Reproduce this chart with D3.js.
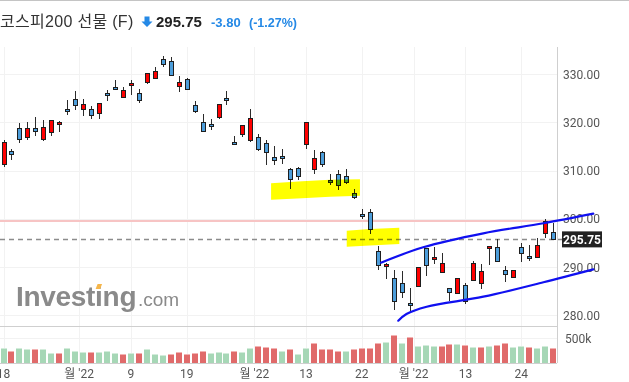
<!DOCTYPE html>
<html>
<head>
<meta charset="utf-8">
<script src="https://cdn.jsdelivr.net/npm/d3@7"></script>
<style>
body { margin: 0; background: #fff; }
svg { display: block; }
</style>
</head>
<body>
<svg id="chart" width="629" height="382"></svg>
<script>
// daily candles, oldest first
var opens = [311.45, 314.0, 318.8, 316.9, 318.8, 316.5, 318.0, 319.8, 322.8, 324.8,
    322.9, 322.9, 321.9, 326.1, 327.3, 325.2, 327.7, 326.1, 328.3, 329.2,
    333.1, 332.7, 327.5, 329.0, 323.6, 320.2, 319.6, 321.1, 325.0, 315.9,
    317.6, 316.3, 316.9, 315.7, 312.8, 313.0, 310.3, 310.5, 315.5, 310.3,
    313.8, 308.0, 309.3, 308.8, 305.3, 301.0, 301.4, 293.3, 290.2, 287.7,
    286.8, 282.5, 286.0, 293.9, 291.6, 288.9, 285.6, 284.6, 286.2, 287.3,
    286.6, 293.9, 294.1, 289.3, 287.9, 294.1, 292.4, 292.0, 297.0, 297.2];
var highs = [316.4, 314.4, 319.8, 320.0, 321.1, 320.5, 320.6, 320.3, 324.6, 326.5,
    324.8, 323.4, 324.0, 326.7, 328.8, 327.3, 328.8, 326.9, 330.2, 331.5,
    333.7, 333.5, 329.6, 329.2, 324.4, 321.7, 320.7, 323.8, 326.5, 317.1,
    319.4, 322.9, 317.6, 316.3, 315.1, 314.6, 310.5, 310.7, 320.0, 314.2,
    314.0, 309.3, 310.1, 310.3, 306.3, 302.0, 302.0, 294.3, 290.8, 289.5,
    289.1, 285.6, 290.0, 293.9, 294.1, 292.9, 285.6, 287.7, 286.6, 291.2,
    290.6, 294.3, 295.8, 290.2, 289.3, 294.9, 294.5, 296.0, 299.9, 299.1];
var lows = [310.8, 312.2, 315.7, 316.4, 317.2, 316.2, 317.1, 318.0, 321.5, 322.5,
    321.3, 320.7, 320.7, 324.4, 326.7, 325.0, 325.6, 324.0, 327.9, 329.2,
    331.5, 329.8, 326.3, 326.7, 321.9, 318.2, 318.4, 320.7, 323.6, 315.5,
    316.9, 315.9, 314.0, 311.1, 311.1, 311.3, 306.1, 308.0, 314.6, 309.3,
    310.7, 307.0, 305.9, 307.2, 304.1, 299.9, 296.8, 289.5, 287.5, 281.2,
    283.5, 280.4, 285.8, 288.1, 290.6, 288.7, 282.9, 284.4, 282.3, 287.1,
    285.4, 290.4, 291.2, 286.9, 287.7, 291.0, 291.2, 291.8, 296.0, 295.75];
var closes = [315.9, 313.5, 316.5, 318.8, 318.2, 319.0, 320.5, 320.2, 322.7, 323.6,
    323.8, 321.5, 324.0, 325.6, 326.9, 326.7, 328.1, 324.6, 330.2, 330.6,
    332.1, 329.8, 328.3, 326.9, 322.3, 318.2, 319.2, 323.8, 324.6, 315.5,
    319.4, 320.9, 314.4, 313.8, 312.2, 312.6, 308.2, 309.0, 320.0, 312.6,
    311.3, 307.6, 307.0, 307.6, 304.5, 300.5, 297.8, 290.4, 290.6, 282.9,
    284.8, 282.1, 290.0, 290.4, 292.0, 290.8, 284.8, 287.7, 282.9, 290.8,
    289.1, 294.3, 291.2, 288.5, 289.3, 292.9, 292.0, 294.5, 299.5, 295.75];
// volume in thousands
var volumes = [293, 250, 293, 271, 271, 271, 200, 200, 293, 250,
    221, 221, 221, 250, 200, 178, 200, 200, 271, 178,
    157, 178, 221, 178, 200, 250, 200, 221, 200, 250,
    221, 307, 336, 314, 293, 250, 271, 178, 293, 393,
    271, 271, 250, 250, 271, 293, 293, 393, 421, 564,
    393, 521, 336, 357, 336, 336, 378, 378, 357, 314,
    314, 336, 357, 400, 314, 336, 314, 293, 336, 293];

var tickIndex = [0, 9.5, 16, 23, 31.5, 38, 45, 51.5, 58, 65];
var tickLabels = ["18", "월 '22", "9", "19", "월 '22", "13", "22", "월 '22", "13", "24"];
var priceTicks = [280, 290, 300, 310, 320, 330];
var volumeTicks = [500];

var title = "코스피200 선물 (F)";
var lastPrice = 295.75, change = -3.80, changePct = -1.27;
var prevClose = 299.55;

// hand drawn annotations, [candle index, price]
var upperChannel = [[47.4, 290.91], [52.7, 294.11], [60.25, 297.01], [67.8, 299.09], [74.06, 301.08]];
var lowerChannel = [[49.57, 278.88], [50.6, 280.27], [53.14, 281.78], [60.25, 283.86], [67.8, 286.85], [74.06, 289.54]];
var highlight1 = [[33.6, 307.4], [37.5, 307.8], [41, 308.1], [44.76, 308.2],
    [44.76, 304.8], [41, 304.6], [37.5, 304.3], [33.6, 303.95]];
var highlight2 = [[43.1, 297.55], [46, 297.9], [49.7, 298.17],
    [49.7, 294.79], [46, 294.5], [43.1, 294.23]];

var svg = d3.select("#chart");
var W = 629, plotRight = 557, priceTop = 47, priceBottom = 326, volBottom = 363;

var x = d3.scaleLinear().domain([0, 69]).range([3.5, 553]);
var y = d3.scaleLinear().domain([277.78, 335.66]).range([priceBottom, priceTop]);
var yv = d3.scaleLinear().domain([0, 500]).range([volBottom, 338]);

var upColor = "#ff0000", downColor = "#4d9edb";
var volUp = "#a6d7b6", volDown = "#e06a6a";
var axisFont = "Roboto, 'Noto Sans CJK KR', sans-serif";

svg.append("rect").attr("width", W).attr("height", 382).attr("fill", "#fff");

// top border
svg.append("line").attr("x1", 0).attr("x2", W).attr("y1", 0.5).attr("y2", 0.5)
    .attr("stroke", "#c4c4c4");

// header
var head = svg.append("g").attr("font-family", "'Liberation Sans', Arial, 'Noto Sans CJK KR', sans-serif");
head.append("text").attr("x", 0).attr("y", 27).attr("font-size", 16).attr("letter-spacing", 0.3)
    .attr("fill", "#333").text(title);
head.append("path")
    .attr("d", "M144.5,16.5 h5 v5 h3 l-5.5,5.5 l-5.5,-5.5 h3 z")
    .attr("fill", "#2589e6");
head.append("text").attr("x", 156).attr("y", 27).attr("font-size", 15).attr("font-weight", "bold")
    .attr("fill", "#222").text(lastPrice.toFixed(2));
head.append("text").attr("x", 211).attr("y", 27).attr("font-size", 13).attr("font-weight", "bold")
    .attr("fill", "#2589e6").text(change.toFixed(2));
head.append("text").attr("x", 249).attr("y", 27).attr("font-size", 12.5).attr("font-weight", "bold")
    .attr("fill", "#2589e6").text("(" + changePct.toFixed(2) + "%)");

// grid
var grid = svg.append("g").attr("stroke", "#f2f2f2").attr("shape-rendering", "crispEdges");
grid.selectAll(".gx").data(tickIndex).enter().append("line")
    .attr("x1", function(d) { return Math.round(x(d)) + 0.5; })
    .attr("x2", function(d) { return Math.round(x(d)) + 0.5; })
    .attr("y1", priceTop).attr("y2", volBottom);
grid.selectAll(".gy").data(priceTicks).enter().append("line")
    .attr("x1", 0).attr("x2", plotRight)
    .attr("y1", function(d) { return Math.round(y(d)) + 0.5; })
    .attr("y2", function(d) { return Math.round(y(d)) + 0.5; });
grid.selectAll(".gv").data(volumeTicks).enter().append("line")
    .attr("x1", 0).attr("x2", plotRight)
    .attr("y1", function(d) { return Math.round(yv(d)) + 0.5; })
    .attr("y2", function(d) { return Math.round(yv(d)) + 0.5; });

// watermark
var wm = svg.append("g").attr("font-family", "'Liberation Sans', Arial, sans-serif").attr("fill", "#8a8a8a");
var wmText = wm.append("text").attr("x", 16).attr("y", 306).attr("font-size", 28)
    .attr("font-weight", "bold").attr("letter-spacing", -0.3).text("Investing");
wm.append("text").attr("x", 138).attr("y", 306).attr("font-size", 19).text(".com");
var iPos = wmText.node().getStartPositionOfChar(6);
wm.append("path")
    .attr("d", "M" + (iPos.x + 0.5) + ",289 l2,-5 h4.5 l-2,5 z")
    .attr("fill", "#f6b64a");

// reference lines
svg.append("line").attr("x1", 0).attr("x2", plotRight)
    .attr("y1", y(prevClose)).attr("y2", y(prevClose))
    .attr("stroke", "#f7c4c4").attr("stroke-width", 2);
svg.append("line").attr("x1", 0).attr("x2", 562)
    .attr("y1", Math.round(y(lastPrice)) + 0.5).attr("y2", Math.round(y(lastPrice)) + 0.5)
    .attr("stroke", "#8c8c8c").attr("stroke-width", 1.5).attr("stroke-dasharray", "5,4");

// volume bars
var idx = d3.range(closes.length);
function volColor(i, dark) {
    var up = i === 0 ? true : closes[i] >= closes[i - 1];
    if (dark) return up ? volUp : volDown;
    return up ? "#d3ecdb" : "#f3b3b3";
}
svg.append("g").selectAll("rect").data(idx).enter().append("rect")
    .attr("x", function(i) { return Math.round(x(i)) - 3; })
    .attr("width", 6)
    .attr("y", function(i) { return Math.round(yv(volumes[i])); })
    .attr("height", function(i) { return volBottom - Math.round(yv(volumes[i])); })
    .attr("fill", function(i) { return volColor(i, true); });
svg.append("g").selectAll("rect").data(idx).enter().append("rect")
    .attr("x", function(i) { return Math.round(x(i)) - 3; })
    .attr("width", 6)
    .attr("y", function(i) { return Math.round(yv(volumes[i])); })
    .attr("height", 1)
    .attr("fill", function(i) { return volColor(i, false); });

// candles
var candles = svg.append("g").attr("shape-rendering", "crispEdges");
var c = candles.selectAll("g").data(idx).enter().append("g");
c.append("line")
    .attr("x1", function(i) { return Math.round(x(i)) + 0.5; })
    .attr("x2", function(i) { return Math.round(x(i)) + 0.5; })
    .attr("y1", function(i) { return y(highs[i]); })
    .attr("y2", function(i) { return y(lows[i]); })
    .attr("stroke", "#2b2b2b");
c.append("rect")
    .attr("x", function(i) { return Math.round(x(i)) - 1.5; })
    .attr("width", 4)
    .attr("y", function(i) { return Math.round(y(Math.max(opens[i], closes[i]))) + 0.5; })
    .attr("height", function(i) {
        var h = Math.round(y(Math.min(opens[i], closes[i]))) - Math.round(y(Math.max(opens[i], closes[i])));
        return Math.max(h, 2);
    })
    .attr("fill", function(i) { return closes[i] > opens[i] ? upColor : downColor; })
    .attr("stroke", "#1e1e1e");

// yellow marker strokes
var poly = d3.line().x(function(d) { return x(d[0]); }).y(function(d) { return y(d[1]); });
[highlight1, highlight2].forEach(function(h) {
    svg.append("path").attr("d", poly(h) + "Z")
        .attr("fill", "#ffff00")
        .style("mix-blend-mode", "multiply");
});

// panel borders
var border = svg.append("g").attr("stroke", "#cfcfcf").attr("shape-rendering", "crispEdges");
border.append("line").attr("x1", 0).attr("x2", plotRight).attr("y1", priceBottom + 0.5).attr("y2", priceBottom + 0.5);
border.append("line").attr("x1", 0).attr("x2", plotRight).attr("y1", volBottom + 0.5).attr("y2", volBottom + 0.5);
border.append("line").attr("x1", plotRight + 0.5).attr("x2", plotRight + 0.5).attr("y1", priceTop).attr("y2", volBottom);

// right axis labels
svg.append("g").selectAll("text").data(priceTicks).enter().append("text")
    .attr("x", 563).attr("y", function(d) { return y(d) + 4.5; })
    .attr("font-family", axisFont).attr("font-size", 12).attr("fill", "#555")
    .text(function(d) { return d.toFixed(2); });
svg.append("g").selectAll("text").data(volumeTicks).enter().append("text")
    .attr("x", 565).attr("y", function(d) { return yv(d) + 4.5; })
    .attr("font-family", axisFont).attr("font-size", 12).attr("fill", "#555")
    .text(function(d) { return d + "k"; });

// bottom axis labels
svg.append("g").selectAll("text").data(tickIndex).enter().append("text")
    .attr("x", function(d) { return x(d); })
    .attr("y", 378)
    .attr("text-anchor", "middle")
    .attr("font-family", axisFont).attr("font-size", 12).attr("fill", "#555")
    .text(function(d, i) { return tickLabels[i]; });

// last price tag
var tagY = y(lastPrice);
svg.append("rect").attr("x", 562).attr("y", tagY - 8).attr("width", 40).attr("height", 16).attr("fill", "#222");
svg.append("text").attr("x", 582).attr("y", tagY + 4.5).attr("text-anchor", "middle")
    .attr("font-family", axisFont).attr("font-size", 12).attr("font-weight", "bold").attr("fill", "#fff")
    .text(lastPrice.toFixed(2));

// channel lines drawn last, over the axis text
var chan = d3.line().curve(d3.curveCatmullRom)
    .x(function(d) { return x(d[0]); }).y(function(d) { return y(d[1]); });
[upperChannel, lowerChannel].forEach(function(l) {
    svg.append("path").attr("d", chan(l))
        .attr("fill", "none").attr("stroke", "#1010f0").attr("stroke-width", 2.2)
        .attr("stroke-linecap", "round");
});
</script>
</body>
</html>
